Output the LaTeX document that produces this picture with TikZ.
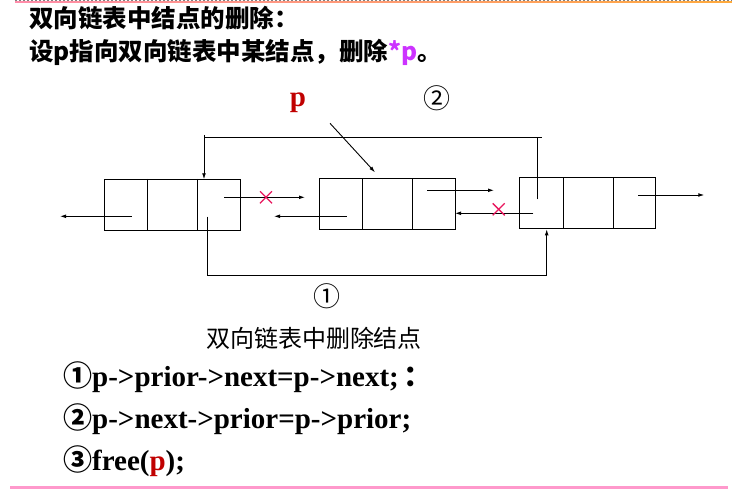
\documentclass[tikz,border=0pt]{standalone}
\usepackage{fontspec}
\setmainfont{Liberation Serif}
\newfontfamily\cjk{Noto Sans CJK SC}
\usetikzlibrary{arrows.meta,calc}
\definecolor{crossred}{RGB}{232,23,93}
\definecolor{pred}{RGB}{192,0,0}
\definecolor{pmag}{RGB}{204,51,255}
\definecolor{pinkline}{RGB}{255,153,204}
\begin{document}
\begin{tikzpicture}[x=1pt,y=-1pt,
  box/.style={draw,line width=1pt,minimum width=136pt,minimum height=51pt,inner sep=0pt},
  link/.style={line width=0.9pt,-{Latex[length=6pt,width=3.8pt]}},
  plain/.style={line width=0.9pt},
  cross/.style={crossred,line width=1.3pt},
  txt/.style={inner sep=0pt,anchor=west}]
\useasboundingbox (0,0) rectangle (732,489);
% top border
\shade[left color={rgb,255:red,255;green,140;blue,170},right color={rgb,255:red,255;green,170;blue,60}] (15,1.2) rectangle (732,3);
\draw[gray,line width=1pt,dash pattern=on 2pt off 2pt] (15,0.5) -- (732,0.5);
% bottom line
\draw[pinkline,line width=2.5pt] (10,487.5) -- (728,487.5);
% titles
\node[txt,font=\cjk\bfseries\fontsize{24.5}{27}\selectfont] (t1) at (29,18) {双向链表中结点的删除：};
\node[txt,font=\cjk\bfseries\fontsize{24.5}{27}\selectfont] (t2) at (29,52) {设p指向双向链表中某结点，删除\textcolor{pmag}{*p}。};
% boxes
\node[box] (n1) at (172.3,204.8) {};
\node[box] (n2) at (387,204.3) {};
\node[box] (n3) at (587.5,203.3) {};
\foreach \n in {n1,n2,n3}{
  \draw[plain] ($(\n.north west)+(44,0)$) -- ($(\n.south west)+(44,0)$);
  \draw[plain] ($(\n.north west)+(94,0)$) -- ($(\n.south west)+(94,0)$);
}
% coordinates
\coordinate (a1s) at (131.7,216.3); \coordinate (a1e) at (60,216.3);
\coordinate (b1s) at (224.3,197.3); \coordinate (b1e) at (305,197.3);
\coordinate (c1s) at (346.7,216.3); \coordinate (c1e) at (274,216.3);
\coordinate (d1s) at (427.3,190.3); \coordinate (d1e) at (494,190.3);
\coordinate (e1s) at (533.3,213.3); \coordinate (e1e) at (455,213.3);
\coordinate (f1s) at (638.3,195); \coordinate (f1e) at (704.3,195);
\draw[link] (a1s) -- (a1e);
\draw[link] (b1s) -- (b1e);
\draw[link] (c1s) -- (c1e);
\draw[link] (d1s) -- (d1e);
\draw[link] (e1s) -- (e1e);
\draw[link] (f1s) -- (f1e);
% crosses
\coordinate (x1) at (266,197.3);
\coordinate (x2) at (498.7,209.3);
\foreach \c in {x1,x2}{
  \draw[cross] ($(\c)+(-6,-6)$) -- ($(\c)+(6,6)$);
  \draw[cross] ($(\c)+(-6,6)$) -- ($(\c)+(6,-6)$);
}
% bracket 2 (top)
\coordinate (g1) at (537.3,199.3);
\coordinate (g2) at (537.3,137.3);
\coordinate (g3) at (541.7,137.3);
\coordinate (g4) at (204,137.3);
\coordinate (g5) at (204,135);
\coordinate (g6) at (204,179.3);
\draw[plain] (g1) -- (g2);
\draw[plain] (g3) -- (g4);
\draw[link] (g5) -- (g6);
% bracket 1 (bottom)
\coordinate (h1) at (207.3,216.7);
\coordinate (h2) at (207.3,275.3);
\coordinate (h3) at (546.7,275.3);
\coordinate (h4) at (546.7,229.3);
\draw[link] (h1) -- (h2) -- (h3) -- (h4);
% p pointer
\node[inner sep=0pt,text=pred,font=\bfseries\fontsize{29}{31}\selectfont] (plab) at (298,103) {p};
\coordinate (ps) at (330,123.3); \coordinate (pe) at (375,172.3);
\draw[link] (ps) -- (pe);
% circled labels
\node[inner sep=0pt,font=\cjk\fontsize{27}{29}\selectfont] (c2) at (436.7,98.3) {②};
\node[inner sep=0pt,font=\cjk\fontsize{27}{29}\selectfont] (c1) at (327,296) {①};
% caption
\node[inner sep=0pt,font=\cjk\fontsize{24}{26}\selectfont] (cap) at (314,338) {双向链表中删除结点};
% code lines
\node[txt,font=\bfseries\fontsize{29}{32}\selectfont] (l1) at (63,377) {{\cjk\bfseries ①}p->prior->next=p->next;\,{\cjk ：}};
\node[txt,font=\bfseries\fontsize{29}{32}\selectfont] (l2) at (63,419) {{\cjk\bfseries ②}p->next->prior=p->prior;};
\node[txt,font=\bfseries\fontsize{29}{32}\selectfont] (l3) at (63,461) {{\cjk\bfseries ③}free(\textcolor{pred}{p});};
\end{tikzpicture}
\end{document}
